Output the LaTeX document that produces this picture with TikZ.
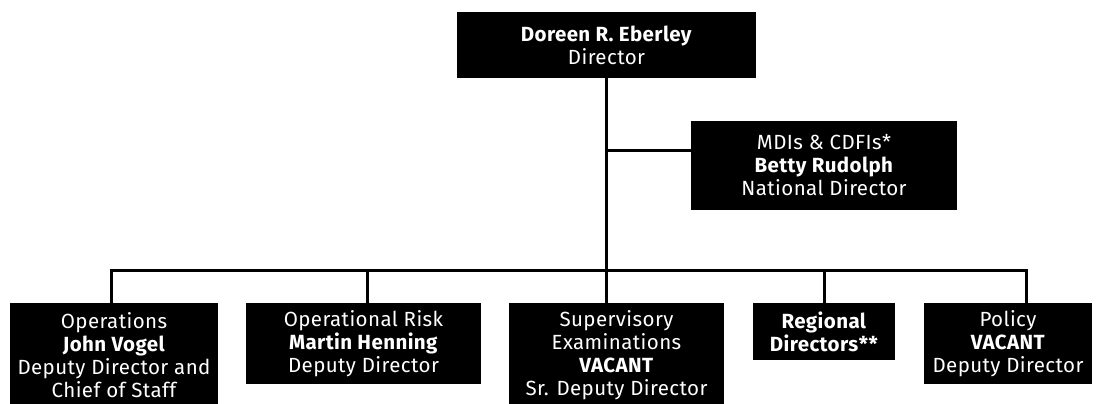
\documentclass[tikz,border=0pt]{standalone}
\usepackage{fontspec}
\setmainfont[LetterSpace=2]{Fira Sans}
\tikzset{
  box/.style={fill=black, text=white, align=center, inner sep=3pt,
    font=\fontsize{20.5}{23}\selectfont},
  link/.style={line width=3pt, line cap=rect}
}
\begin{document}
\begin{tikzpicture}[x=1pt,y=-1pt]
    \useasboundingbox (0,0) rectangle (1096,404);
    % top of the chart
    \node[box, minimum width=299pt, minimum height=66pt] (dir) at (606.5,45)
        {\textbf{Doreen R. Eberley}\\Director};
    \node[box, minimum width=266pt, minimum height=89pt] (mdi) at (824,165.5)
        {MDIs \& CDFIs*\\\textbf{Betty Rudolph}\\National Director};
    % bottom row
    \node[box, anchor=north, minimum width=208pt, minimum height=104pt] (ops) at (114,303)
        {Operations\\\textbf{John Vogel}\\Deputy Director and\\Chief of Staff};
    \node[box, anchor=north, minimum width=235pt, minimum height=81pt] (risk) at (363.5,303)
        {Operational Risk\\\textbf{Martin Henning}\\Deputy Director};
    \node[box, anchor=north, minimum width=215pt, minimum height=104pt] (sup) at (616.5,303)
        {Supervisory\\Examinations\\\textbf{VACANT}\\Sr. Deputy Director};
    \node[box, anchor=north, minimum width=142pt, minimum height=57pt] (reg) at (824,303)
        {\textbf{Regional}\\\textbf{Directors**}};
    \node[box, anchor=north, minimum width=168pt, minimum height=81pt] (pol) at (1008,303)
        {Policy\\\textbf{VACANT}\\Deputy Director};
    % connectors
    \coordinate (br) at (606.5,150);
    \coordinate (d1) at (111,270);
    \coordinate (d2) at (367,270);
    \coordinate (d3) at (606.5,270);
    \coordinate (d4) at (824,270);
    \coordinate (d5) at (1026,270);
    \draw[link] (dir.south) -- (d3);
    \draw[link] (br) -- (br -| mdi.west);
    \draw[link] (d1) -- (d5);
    \draw[link] (d1) -- (d1 |- ops.north);
    \draw[link] (d2) -- (d2 |- risk.north);
    \draw[link] (d3) -- (d3 |- sup.north);
    \draw[link] (d4) -- (reg.north);
    \draw[link] (d5) -- (d5 |- pol.north);
\end{tikzpicture}
\end{document}
